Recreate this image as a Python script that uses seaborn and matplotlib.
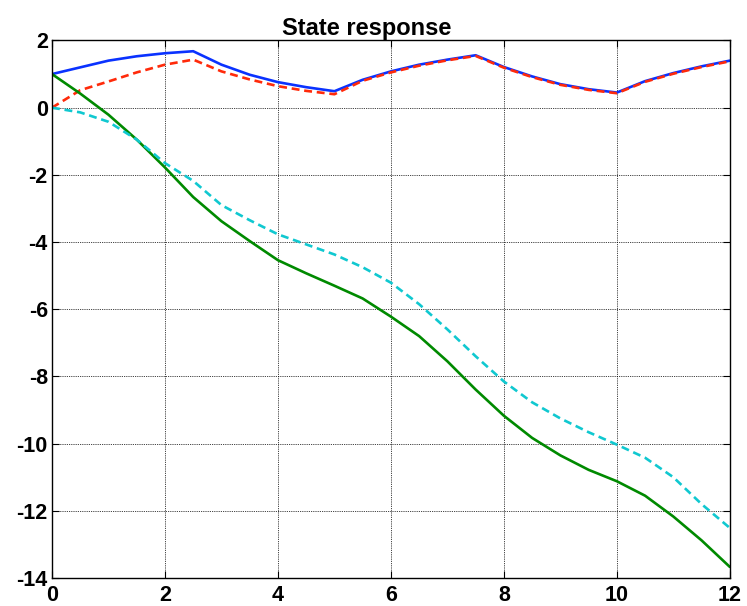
import numpy as np
import pandas as pd
import matplotlib
matplotlib.use("Agg")
import matplotlib.pyplot as plt
import seaborn as sns

# Time grid and the four state trajectories
t = np.arange(0, 12.01, 0.5)

x1 = [1.00, 1.20, 1.40, 1.53, 1.62, 1.68, 1.28, 0.98, 0.76, 0.61, 0.49,
      0.83, 1.08, 1.28, 1.43, 1.56, 1.21, 0.93, 0.70, 0.55, 0.45,
      0.79, 1.03, 1.23, 1.40]
x2 = [0.00, 0.52, 0.78, 1.05, 1.28, 1.43, 1.08, 0.84, 0.64, 0.50, 0.40,
      0.80, 1.05, 1.25, 1.41, 1.54, 1.19, 0.91, 0.68, 0.53, 0.43,
      0.77, 1.01, 1.21, 1.38]
x3 = [1.00, 0.42, -0.21, -0.95, -1.78, -2.66, -3.38, -3.97, -4.54, -4.93,
      -5.30, -5.68, -6.22, -6.80, -7.55, -8.39, -9.17, -9.83, -10.35,
      -10.78, -11.12, -11.55, -12.17, -12.88, -13.67]
x4 = [0.00, -0.14, -0.42, -0.95, -1.65, -2.18, -2.90, -3.35, -3.77, -4.07,
      -4.37, -4.75, -5.21, -5.85, -6.60, -7.40, -8.15, -8.77, -9.25,
      -9.66, -10.03, -10.42, -11.00, -11.80, -12.51]

x_ticks = [0, 2, 4, 6, 8, 10, 12]
y_ticks = [2, 0, -2, -4, -6, -8, -10, -12, -14]

sns.set_style("ticks")
plt.rcParams["font.family"] = ["Liberation Sans", "DejaVu Sans"]

fig = plt.figure(figsize=(7.47, 6.06), dpi=100)
ax = fig.add_axes([0.0696, 0.0462, 0.9074, 0.887])

lw = 1.9
sns.lineplot(x=t, y=x1, ax=ax, color="#0a32ff", lw=lw)
sns.lineplot(x=t, y=x2, ax=ax, color="#ff2a0a", lw=lw)
ax.lines[-1].set_dashes((3, 1.8))
sns.lineplot(x=t, y=x3, ax=ax, color="#008a00", lw=lw)
sns.lineplot(x=t, y=x4, ax=ax, color="#10c8d0", lw=lw)
ax.lines[-1].set_dashes((3, 1.8))

ax.set_xlim(0, 12)
ax.set_ylim(-14, 2)
ax.set_xticks(x_ticks)
ax.set_yticks(y_ticks)
ax.set_xticklabels([str(v) for v in x_ticks])
ax.set_yticklabels([str(v) for v in y_ticks])
ax.tick_params(direction="in", length=5, width=0.8, top=True, right=True,
               labelsize=15.5, colors="black")
ax.tick_params(axis="x", pad=5)
ax.tick_params(axis="y", pad=3)
for lab in ax.get_xticklabels() + ax.get_yticklabels():
    lab.set_fontweight("bold")

ax.grid(True, color="black", linestyle=(0, (1, 1.2)), linewidth=0.6)
for s in ax.spines.values():
    s.set_visible(True)
    s.set_color("black")
    s.set_linewidth(1.0)

ax.set_title("State response", fontsize=17, fontweight="bold", color="black",
             x=0.465, pad=4)

fig.savefig("out.png", dpi=100)
